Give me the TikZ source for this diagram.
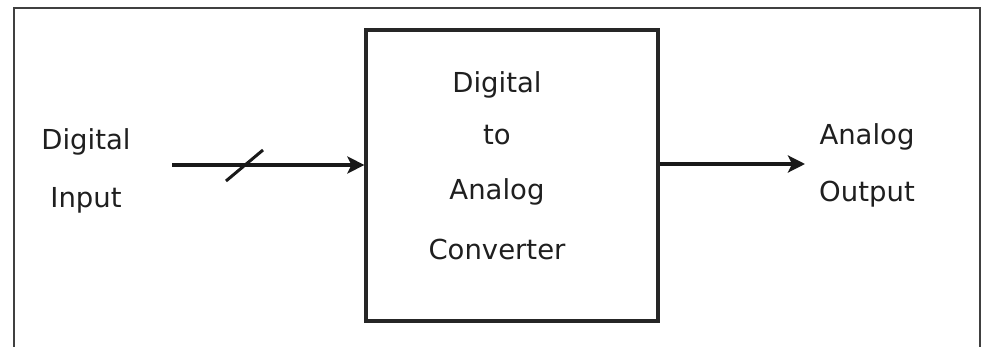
\documentclass[tikz,border=0pt]{standalone}
\usepackage{fontspec}
\setmainfont{DejaVu Sans}
\usetikzlibrary{arrows.meta}
\begin{document}
\begin{tikzpicture}[x=1pt,y=1pt,
  lbl/.style={font=\fontsize{27.5}{57}\selectfont, text=black!88, align=center, inner sep=0pt, anchor=base},
  blockbox/.style={draw=black!85, line width=3.2pt, minimum width=292pt, minimum height=291pt, inner sep=0pt},
  sig/.style={draw=black!90, line width=3.4pt, -{Stealth[length=17pt,width=17pt,inset=4pt]}},
  frame/.style={draw=black!75, line width=1.8pt}]
\useasboundingbox (0,0) rectangle (988,-347);
\fill[white] (0,0) rectangle (988,-347);
% outer frame (open at the bottom)
\draw[frame] (14,-347) -- (14,-8) -- (980,-8) -- (980,-347);
% converter block
\node[blockbox] (dac) at (512,-175.5) {};
\node[lbl, font=\fontsize{27.5}{55}\selectfont] (dactext) at (497,-260) {Digital\\[-3pt]to\\Analog\\[5pt]Converter};
% labels
\node[lbl, font=\fontsize{27.5}{58}\selectfont] (din) at (86,-208) {Digital\\Input};
\node[lbl, font=\fontsize{27.5}{57}\selectfont] (aout) at (867,-202) {Analog\\Output};
% input bus
\coordinate (inStart) at (172,-165);
\coordinate (outEnd) at (805,-164);
\draw[sig] (inStart) -- (dac.west |- inStart);
\coordinate (slashMid) at (244.5,-165.5);
\draw[draw=black!90, line width=3pt] ([shift={(-18.5,-15.5)}]slashMid) -- ([shift={(18.5,15.5)}]slashMid);
% output
\draw[sig] (dac.east |- outEnd) -- (outEnd);
\end{tikzpicture}
\end{document}
